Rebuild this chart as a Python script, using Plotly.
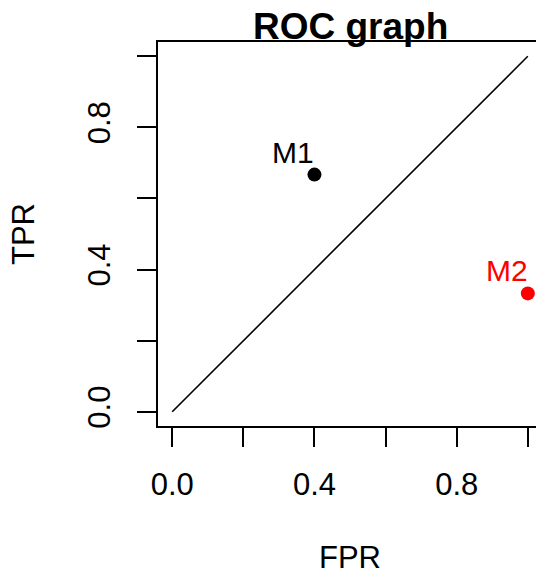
import plotly.graph_objects as go

# Data
models = ["M1", "M2"]
fpr = [0.4, 1.0]
tpr = [0.667, 0.333]
colors = ["black", "red"]
diag_x = [0, 1]
diag_y = [0, 1]
tick_vals = [0.0, 0.2, 0.4, 0.6, 0.8, 1.0]
tick_text = ["0.0", "", "0.4", "", "0.8", ""]

FONT = "Liberation Sans, Arial, Helvetica, sans-serif"

fig = go.Figure()
fig.add_trace(go.Scatter(x=diag_x, y=diag_y, mode="lines",
                         line=dict(color="black", width=1.6),
                         hoverinfo="skip", showlegend=False))
fig.add_trace(go.Scatter(x=fpr, y=tpr, mode="markers",
                         marker=dict(color=colors, size=14, line=dict(width=0)),
                         cliponaxis=False, showlegend=False))

annotations = []
for m, xv, yv, c in zip(models, fpr, tpr, colors):
    annotations.append(dict(x=xv, y=yv, xref="x", yref="y", text=m,
                            showarrow=False, xanchor="right", yanchor="bottom",
                            xshift=2, yshift=4,
                            font=dict(family=FONT, size=30, color=c)))
# title
annotations.append(dict(x=(350 - 158) / 378, y=1, xref="paper", yref="paper",
                        text="<b>ROC graph</b>", showarrow=False,
                        xanchor="center", yanchor="bottom", yshift=-7,
                        font=dict(family=FONT, size=37, color="black")))
# axis titles
annotations.append(dict(x=(350 - 158) / 378, y=0, xref="paper", yref="paper",
                        text="FPR", showarrow=False, xanchor="center",
                        yanchor="bottom", yshift=-150, borderpad=0,
                        font=dict(family=FONT, size=31, color="black")))
annotations.append(dict(x=0, y=0.5, xref="paper", yref="paper",
                        text="TPR", showarrow=False, xanchor="center",
                        yanchor="middle", xshift=-135, textangle=-90,
                        font=dict(family=FONT, size=31, color="black")))

axis_common = dict(showgrid=False, zeroline=False, showline=True,
                   linecolor="black", linewidth=2, ticks="outside",
                   ticklen=19, tickwidth=2, tickcolor="black",
                   tickvals=tick_vals, ticktext=tick_text,
                   tickfont=dict(family=FONT, size=31, color="black"))

fig.update_layout(
    width=536, height=577,
    margin=dict(l=158, r=0, t=42, b=151),
    paper_bgcolor="white", plot_bgcolor="white",
    xaxis=dict(range=[-0.04, 1.023], mirror=True, ticklabelstandoff=11,
               **axis_common),
    yaxis=dict(range=[-0.04, 1.04], tickangle=-90, ticklabelstandoff=15,
               **axis_common),
    annotations=annotations,
    showlegend=False,
)

fig.write_html("out.html")
